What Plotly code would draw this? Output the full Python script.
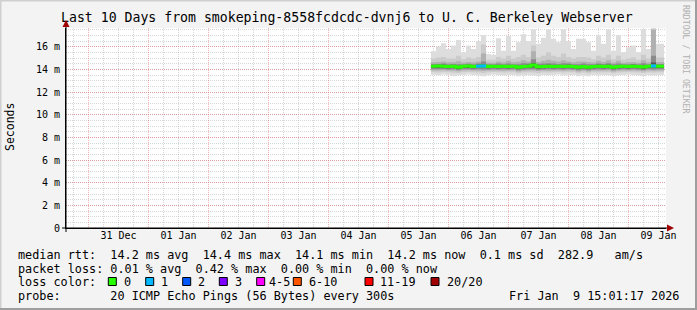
import numpy as np
import pandas as pd
import plotly.graph_objects as go

# ---------------- data ----------------
title_text = "Last 10 Days from smokeping-8558fcdcdc-dvnj6 to U. C. Berkeley Webserver"
range_start = "2025-12-30 15:01:17"
range_end = "2026-01-09 15:01:17"
day_labels = ["31 Dec", "01 Jan", "02 Jan", "03 Jan", "04 Jan",
              "05 Jan", "06 Jan", "07 Jan", "08 Jan", "09 Jan"]
label_times = ["2025-12-31 12:00", "2026-01-01 12:00", "2026-01-02 12:00",
               "2026-01-03 12:00", "2026-01-04 12:00", "2026-01-05 12:00",
               "2026-01-06 12:00", "2026-01-07 12:00", "2026-01-08 12:00",
               "2026-01-09 12:00"]
y_tick_vals = [0, 2, 4, 6, 8, 10, 12, 14, 16]
y_tick_text = ["0", "2 m", "4 m", "6 m", "8 m", "10 m", "12 m", "14 m", "16 m"]

data_start = "2026-01-05 17:00"
data_end = "2026-01-09 14:15"
bin_hours = 2

median_ms = [14.28, 14.30, 14.28, 14.25, 14.28, 14.18, 14.28, 14.30, 14.25, 14.28,
             14.30, 14.25, 14.28, 14.25, 14.28, 14.25, 14.28, 14.18, 14.25, 14.28,
             14.38, 14.22, 14.25, 14.28, 14.25, 14.28, 14.25, 14.28, 14.25, 14.18,
             14.25, 14.18, 14.25, 14.28, 14.25, 14.28, 14.18, 14.25, 14.28, 14.25,
             14.28, 14.25, 14.20, 14.28, 14.30, 14.28, 14.28]
max_ms = [15.60, 16.05, 16.30, 15.80, 16.10, 16.60, 15.50, 16.10, 15.80, 16.50,
          17.00, 15.35, 15.30, 16.75, 15.65, 16.97, 15.65, 16.40, 17.10, 16.50,
          17.55, 16.25, 16.80, 17.55, 16.70, 16.40, 17.55, 16.50, 15.80, 16.70,
          16.70, 16.40, 15.65, 17.00, 16.25, 17.55, 15.65, 17.00, 15.50, 15.95,
          16.10, 15.50, 17.55, 15.80, 17.60, 16.25, 16.25]
hi2_ms = [14.95, 15.05, 15.10, 14.95, 14.95, 15.20, 14.90, 15.05, 14.95, 15.10,
          16.20, 14.85, 14.85, 15.10, 14.95, 15.20, 14.95, 15.10, 15.30, 15.10,
          16.10, 15.05, 15.20, 15.50, 15.20, 15.10, 15.40, 15.10, 14.95, 15.10,
          15.10, 15.05, 14.90, 15.20, 15.05, 15.30, 14.90, 15.20, 14.85, 14.95,
          15.05, 14.85, 15.30, 14.95, 17.60, 15.05, 15.05]
hi3_ms = [14.62, 14.65, 14.70, 14.62, 14.62, 14.72, 14.60, 14.65, 14.62, 14.70,
          15.40, 14.60, 14.58, 14.70, 14.62, 14.75, 14.62, 14.68, 14.80, 14.70,
          15.60, 14.65, 14.75, 14.85, 14.75, 14.70, 14.80, 14.70, 14.62, 14.70,
          14.70, 14.65, 14.60, 14.75, 14.65, 14.80, 14.60, 14.75, 14.58, 14.62,
          14.65, 14.58, 14.80, 14.62, 17.50, 14.65, 14.65]
hi4_ms = [14.48, 14.48, 14.52, 14.46, 14.48, 14.45, 14.46, 14.50, 14.46, 14.52,
          14.70, 14.46, 14.46, 14.52, 14.46, 14.52, 14.46, 14.44, 14.55, 14.52,
          14.90, 14.48, 14.52, 14.55, 14.52, 14.48, 14.55, 14.52, 14.46, 14.44,
          14.52, 14.44, 14.46, 14.52, 14.48, 14.55, 14.44, 14.52, 14.46, 14.46,
          14.48, 14.46, 14.55, 14.46, 15.20, 14.48, 14.48]
hi5_ms = [14.38, 14.40, 14.40, 14.36, 14.38, 14.32, 14.38, 14.40, 14.36, 14.40,
          14.45, 14.36, 14.38, 14.36, 14.38, 14.36, 14.38, 14.30, 14.38, 14.40,
          14.55, 14.34, 14.36, 14.40, 14.36, 14.38, 14.38, 14.40, 14.36, 14.30,
          14.38, 14.30, 14.36, 14.40, 14.36, 14.40, 14.30, 14.38, 14.38, 14.36,
          14.40, 14.36, 14.34, 14.38, 14.60, 14.38, 14.38]
lo5_ms = [14.12, 14.12, 14.11, 14.10, 14.12, 14.04, 14.12, 14.13, 14.10, 14.12,
          14.12, 14.10, 14.12, 14.10, 14.12, 14.10, 14.12, 14.04, 14.10, 14.12,
          14.16, 14.08, 14.10, 14.12, 14.10, 14.12, 14.10, 14.12, 14.10, 14.04,
          14.10, 14.04, 14.10, 14.12, 14.10, 14.12, 14.04, 14.10, 14.12, 14.10,
          14.12, 14.10, 14.06, 14.12, 14.12, 14.12, 14.12]
lo4_ms = [14.01, 14.00, 14.02, 13.99, 14.00, 13.94, 14.01, 14.02, 13.99, 14.00,
          13.99, 13.99, 14.01, 13.99, 14.00, 13.99, 14.01, 13.92, 13.99, 14.01,
          14.02, 13.97, 13.99, 14.00, 13.99, 14.01, 13.99, 14.00, 13.99, 13.92,
          13.99, 13.92, 13.99, 14.00, 13.99, 14.01, 13.92, 13.99, 14.01, 13.99,
          14.00, 13.99, 13.94, 14.00, 13.99, 14.00, 14.00]
lo3_ms = [13.90, 13.89, 13.92, 13.89, 13.88, 13.84, 13.90, 13.92, 13.89, 13.88,
          13.87, 13.89, 13.91, 13.89, 13.88, 13.89, 13.90, 13.82, 13.88, 13.90,
          13.89, 13.86, 13.89, 13.88, 13.89, 13.91, 13.88, 13.90, 13.89, 13.82,
          13.88, 13.82, 13.89, 13.88, 13.89, 13.90, 13.82, 13.88, 13.90, 13.91,
          13.89, 13.88, 13.84, 13.90, 13.88, 13.89, 13.89]
lo2_ms = [13.74, 13.72, 13.77, 13.74, 13.70, 13.68, 13.74, 13.77, 13.74, 13.72,
          13.68, 13.74, 13.76, 13.74, 13.72, 13.74, 13.74, 13.66, 13.72, 13.74,
          13.72, 13.68, 13.74, 13.72, 13.74, 13.77, 13.72, 13.74, 13.74, 13.66,
          13.72, 13.66, 13.74, 13.72, 13.74, 13.74, 13.66, 13.72, 13.74, 13.77,
          13.74, 13.72, 13.68, 13.74, 13.72, 13.74, 13.74]
min_ms = [13.50, 13.45, 13.55, 13.50, 13.40, 13.45, 13.50, 13.55, 13.50, 13.45,
          13.40, 13.50, 13.55, 13.50, 13.45, 13.50, 13.50, 13.40, 13.45, 13.50,
          13.45, 13.40, 13.50, 13.45, 13.50, 13.55, 13.45, 13.50, 13.50, 13.40,
          13.45, 13.40, 13.50, 13.45, 13.50, 13.50, 13.40, 13.45, 13.50, 13.55,
          13.50, 13.45, 13.40, 13.50, 13.45, 13.50, 13.50]
loss_count = [0, 0, 0, 0, 0, 0, 0, 0, 0, 1,
              1, 0, 0, 0, 0, 0, 0, 0, 0, 0,
              0, 0, 0, 0, 0, 0, 0, 0, 0, 0,
              0, 0, 0, 0, 0, 0, 0, 0, 0, 0,
              0, 0, 0, 0, 1, 0, 0]

loss_labels = ["0", "1", "2", "3", "4-5", "6-10", "11-19", "20/20"]
loss_colors = ["#26ff00", "#00b8ff", "#0059ff", "#7e00ff", "#ff00ff",
               "#ff5500", "#ff0000", "#a00000"]

legend_rtt = "median rtt:  14.2 ms avg  14.4 ms max  14.1 ms min  14.2 ms now  0.1 ms sd  282.9   am/s"
legend_loss = "packet loss: 0.01 % avg  0.42 % max  0.00 % min  0.00 % now"
legend_color = "loss color:"
legend_probe = "probe:       20 ICMP Echo Pings (56 Bytes) every 300s"
legend_date = "Fri Jan  9 15:01:17 2026"
side_text = "RRDTOOL / TOBI OETIKER"

# ---------------- geometry helpers ----------------
W, H = 697, 310
L, R, T, B = 66, 31, 28, 82
PW, PH = W - L - R, H - T - B
MONO = "DejaVu Sans Mono"


def px(x):
    return (x - L) / PW


def py(y):
    return (H - B - y) / PH


def nb(s):
    return s.replace(" ", "\u00a0")


n = len(median_ms)
t_bins = pd.date_range(data_start, periods=n, freq=f"{bin_hours}h")
x_step = list(t_bins) + [pd.Timestamp(data_end)]


def ext(v):
    return list(v) + [v[-1]]


fig = go.Figure()

bands = [
    (min_ms, max_ms, "#dddddd"),
    (lo2_ms, hi2_ms, "#cbcbcb"),
    (lo3_ms, hi3_ms, "#b0b0b0"),
    (lo4_ms, hi4_ms, "#8a8a8a"),
    (lo5_ms, hi5_ms, "#555555"),
]
for lo, hi, col in bands:
    fig.add_trace(go.Scatter(x=x_step, y=ext(lo), mode="lines", line=dict(width=0, shape="hv"),
                             hoverinfo="skip", showlegend=False))
    fig.add_trace(go.Scatter(x=x_step, y=ext(hi), mode="lines", fill="tonexty", fillcolor=col,
                             line=dict(width=0, shape="hv"), hoverinfo="skip", showlegend=False))

# median line, coloured by loss
fig.add_trace(go.Scatter(x=x_step, y=ext(median_ms), mode="lines",
                         line=dict(color=loss_colors[0], width=3, shape="hv"),
                         hoverinfo="skip", showlegend=False))
for ci in range(1, len(loss_colors)):
    xs, ys = [], []
    for k in range(n):
        if loss_count[k] == ci:
            xs += [x_step[k], x_step[k + 1], None]
            ys += [median_ms[k], median_ms[k], None]
    if xs:
        fig.add_trace(go.Scatter(x=xs, y=ys, mode="lines",
                                 line=dict(color=loss_colors[ci], width=3),
                                 hoverinfo="skip", showlegend=False))

# invisible trace for the label axis
fig.add_trace(go.Scatter(x=[range_start], y=[0], xaxis="x2", mode="markers",
                         marker=dict(opacity=0), hoverinfo="skip", showlegend=False))

major_grid = "rgba(225,90,90,0.45)"
minor_grid = "rgba(160,160,160,0.42)"

fig.update_layout(
    width=W, height=H,
    margin=dict(l=L, r=R, t=T, b=B, pad=0),
    paper_bgcolor="#f3f3f3",
    plot_bgcolor="#ffffff",
    showlegend=False,
    font=dict(family=MONO, size=10, color="#000000"),
    xaxis=dict(
        type="date", range=[range_start, range_end],
        tickmode="linear", tick0="2025-12-31 00:00", dtick=86400000,
        showticklabels=False, ticks="",
        showgrid=True, gridcolor=major_grid, griddash="1px,1px", gridwidth=1,
        minor=dict(tickmode="linear", tick0="2025-12-31 00:00", dtick=6 * 3600000,
                   showgrid=True, gridcolor=minor_grid, griddash="1px,1px", gridwidth=1),
        showline=True, linecolor="#000000", linewidth=1,
        zeroline=False, fixedrange=True,
    ),
    xaxis2=dict(
        type="date", range=[range_start, range_end], overlaying="x", anchor="y",
        side="bottom", tickmode="array", tickvals=label_times, ticktext=day_labels,
        showgrid=False, ticks="", showline=False, zeroline=False,
        tickfont=dict(family=MONO, size=10, color="#000000"),
    ),
    yaxis=dict(
        range=[0, 17.65], tickmode="array", tickvals=y_tick_vals, ticktext=y_tick_text,
        showgrid=True, gridcolor=major_grid, griddash="1px,1px", gridwidth=1,
        minor=dict(tickmode="array", tickvals=list(np.arange(0.5, 17.6, 0.5)),
                   showgrid=True, gridcolor=minor_grid, griddash="1px,1px", gridwidth=1),
        showline=True, linecolor="#000000", linewidth=1,
        zeroline=False, ticks="outside", ticklen=3, tickcolor="rgba(0,0,0,0)",
        tickfont=dict(family=MONO, size=10, color="#000000"),
    ),
)

ann = []
ann.append(dict(x=px(347), y=py(18), xref="paper", yref="paper", text=nb(title_text),
                showarrow=False, xanchor="center", yanchor="middle",
                font=dict(family=MONO, size=13.2, color="#000000")))
ann.append(dict(x=px(10), y=py(127), xref="paper", yref="paper", text="Seconds",
                showarrow=False, textangle=-90, xanchor="center", yanchor="middle",
                font=dict(family=MONO, size=11.5, color="#000000")))
ann.append(dict(x=px(686), y=py(59), xref="paper", yref="paper", text=nb(side_text),
                showarrow=False, textangle=90, xanchor="center", yanchor="middle",
                font=dict(family=MONO, size=8.2, color="#b0b0b0")))
rows = [(legend_rtt, 254.5), (legend_loss, 268.5), (legend_color, 282.0), (legend_probe, 296.0)]
for txt, yy in rows:
    ann.append(dict(x=px(16), y=py(yy), xref="paper", yref="paper", text=nb(txt),
                    showarrow=False, xanchor="left", yanchor="middle",
                    font=dict(family=MONO, size=11.8, color="#000000")))
ann.append(dict(x=px(681), y=py(296.0), xref="paper", yref="paper", text=nb(legend_date),
                showarrow=False, xanchor="right", yanchor="middle",
                font=dict(family=MONO, size=11.8, color="#000000")))

box_x = [108.3, 145.7, 182.7, 219.3, 256.7, 293.3, 365.0, 431.0]
label_x = [121.5, 158.9, 195.9, 232.5, 267.0, 306.5, 378.0, 444.5]
shapes = []
for bx, lx, lab, col in zip(box_x, label_x, loss_labels, loss_colors):
    shapes.append(dict(type="rect", xref="paper", yref="paper",
                       x0=px(bx), x1=px(bx + 8), y0=py(285.5), y1=py(277.5),
                       fillcolor=col, line=dict(color="#000000", width=1)))
    ann.append(dict(x=px(lx), y=py(282.0), xref="paper", yref="paper", text=nb(lab),
                    showarrow=False, xanchor="left", yanchor="middle",
                    font=dict(family=MONO, size=11.8, color="#000000")))

# axis arrows
ann.append(dict(x=px(66), y=py(20), xref="paper", yref="paper", text="", showarrow=True,
                ax=0, ay=8, arrowhead=2, arrowsize=1.4, arrowwidth=1, arrowcolor="#a00000"))
ann.append(dict(x=px(674), y=py(228), xref="paper", yref="paper", text="", showarrow=True,
                ax=-8, ay=0, arrowhead=2, arrowsize=1.4, arrowwidth=1, arrowcolor="#a00000"))

# extend axis lines a little like rrdtool
shapes.append(dict(type="line", xref="paper", yref="paper", x0=px(62), x1=px(667),
                   y0=py(228), y1=py(228), line=dict(color="#000000", width=1)))
shapes.append(dict(type="line", xref="paper", yref="paper", x0=px(66), x1=px(66),
                   y0=py(232), y1=py(26), line=dict(color="#000000", width=1)))

# frame shading
shapes.append(dict(type="line", xref="paper", yref="paper", x0=px(0), x1=px(697),
                   y0=py(0.5), y1=py(0.5), line=dict(color="#cfcfcf", width=2)))
shapes.append(dict(type="line", xref="paper", yref="paper", x0=px(0.5), x1=px(0.5),
                   y0=py(0), y1=py(310), line=dict(color="#cfcfcf", width=2)))
shapes.append(dict(type="line", xref="paper", yref="paper", x0=px(696), x1=px(696),
                   y0=py(0), y1=py(310), line=dict(color="#9e9e9e", width=2)))
shapes.append(dict(type="line", xref="paper", yref="paper", x0=px(0), x1=px(697),
                   y0=py(309), y1=py(309), line=dict(color="#9e9e9e", width=2)))

fig.update_layout(annotations=ann, shapes=shapes)
fig.write_html("out.html")
